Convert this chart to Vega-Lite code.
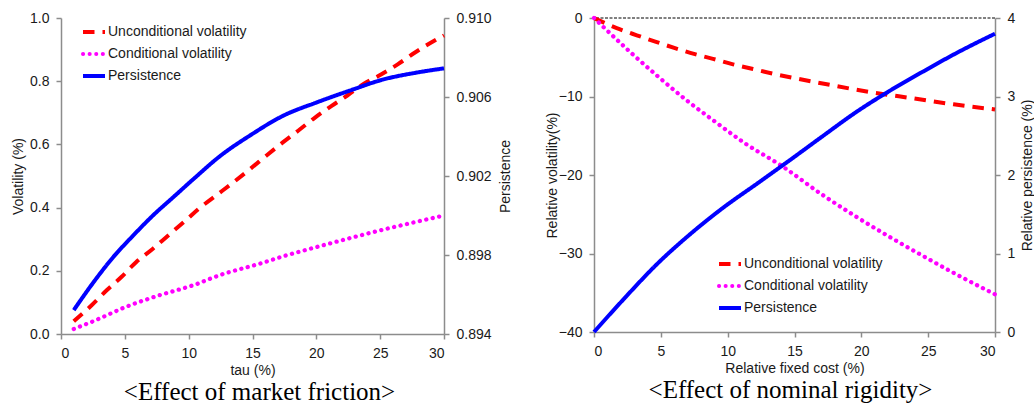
{
  "$schema": "https://vega.github.io/schema/vega-lite/v6.json",
  "background": "white",
  "padding": {"left": 11, "top": 9, "right": 0, "bottom": 0},
  "spacing": 33,
  "datasets": {
    "friction": [
      {"series": "Unconditional volatility", "x": 1, "v": 0.04},
      {"series": "Unconditional volatility", "x": 2.4, "v": 0.091},
      {"series": "Unconditional volatility", "x": 3.6, "v": 0.139},
      {"series": "Unconditional volatility", "x": 4.75, "v": 0.181},
      {"series": "Unconditional volatility", "x": 5.9, "v": 0.228},
      {"series": "Unconditional volatility", "x": 7.2, "v": 0.27},
      {"series": "Unconditional volatility", "x": 8.4, "v": 0.312},
      {"series": "Unconditional volatility", "x": 9.7, "v": 0.357},
      {"series": "Unconditional volatility", "x": 10.9, "v": 0.4},
      {"series": "Unconditional volatility", "x": 12.2, "v": 0.44},
      {"series": "Unconditional volatility", "x": 13.5, "v": 0.48},
      {"series": "Unconditional volatility", "x": 14.9, "v": 0.525},
      {"series": "Unconditional volatility", "x": 16.1, "v": 0.565},
      {"series": "Unconditional volatility", "x": 17.4, "v": 0.607},
      {"series": "Unconditional volatility", "x": 18.6, "v": 0.644},
      {"series": "Unconditional volatility", "x": 19.9, "v": 0.685},
      {"series": "Unconditional volatility", "x": 21.2, "v": 0.722},
      {"series": "Unconditional volatility", "x": 22.4, "v": 0.754},
      {"series": "Unconditional volatility", "x": 23.7, "v": 0.791},
      {"series": "Unconditional volatility", "x": 25.1, "v": 0.822},
      {"series": "Unconditional volatility", "x": 26.4, "v": 0.854},
      {"series": "Unconditional volatility", "x": 27.7, "v": 0.89},
      {"series": "Unconditional volatility", "x": 29.2, "v": 0.927},
      {"series": "Unconditional volatility", "x": 30, "v": 0.945},
      {"series": "Conditional volatility", "x": 1, "v": 0.016},
      {"series": "Conditional volatility", "x": 2.5, "v": 0.04},
      {"series": "Conditional volatility", "x": 5.1, "v": 0.086},
      {"series": "Conditional volatility", "x": 7.5, "v": 0.12},
      {"series": "Conditional volatility", "x": 10.4, "v": 0.155},
      {"series": "Conditional volatility", "x": 12.5, "v": 0.187},
      {"series": "Conditional volatility", "x": 15.6, "v": 0.223},
      {"series": "Conditional volatility", "x": 17.5, "v": 0.247},
      {"series": "Conditional volatility", "x": 20, "v": 0.275},
      {"series": "Conditional volatility", "x": 22.5, "v": 0.302},
      {"series": "Conditional volatility", "x": 25, "v": 0.328},
      {"series": "Conditional volatility", "x": 27.5, "v": 0.352},
      {"series": "Conditional volatility", "x": 30, "v": 0.375},
      {"series": "Persistence", "x": 1, "v": 0.89521},
      {"series": "Persistence", "x": 2.5, "v": 0.89658},
      {"series": "Persistence", "x": 4.1, "v": 0.8979},
      {"series": "Persistence", "x": 5.66, "v": 0.89899},
      {"series": "Persistence", "x": 7.2, "v": 0.9},
      {"series": "Persistence", "x": 8.8, "v": 0.90093},
      {"series": "Persistence", "x": 10.4, "v": 0.90186},
      {"series": "Persistence", "x": 12.5, "v": 0.90303},
      {"series": "Persistence", "x": 14.8, "v": 0.90405},
      {"series": "Persistence", "x": 17.4, "v": 0.90505},
      {"series": "Persistence", "x": 20, "v": 0.90572},
      {"series": "Persistence", "x": 22.6, "v": 0.90632},
      {"series": "Persistence", "x": 25.2, "v": 0.90688},
      {"series": "Persistence", "x": 27.9, "v": 0.90724},
      {"series": "Persistence", "x": 30, "v": 0.90745}
    ],
    "rigidity": [
      {"series": "Unconditional volatility", "x": 0, "v": 0},
      {"series": "Unconditional volatility", "x": 1.7, "v": -1.28},
      {"series": "Unconditional volatility", "x": 3.2, "v": -2.2},
      {"series": "Unconditional volatility", "x": 4.7, "v": -3.07},
      {"series": "Unconditional volatility", "x": 6.06, "v": -3.84},
      {"series": "Unconditional volatility", "x": 7.55, "v": -4.6},
      {"series": "Unconditional volatility", "x": 8.9, "v": -5.2},
      {"series": "Unconditional volatility", "x": 10.4, "v": -5.9},
      {"series": "Unconditional volatility", "x": 11.9, "v": -6.5},
      {"series": "Unconditional volatility", "x": 13.4, "v": -7.1},
      {"series": "Unconditional volatility", "x": 14.9, "v": -7.62},
      {"series": "Unconditional volatility", "x": 17.9, "v": -8.6},
      {"series": "Unconditional volatility", "x": 20.9, "v": -9.5},
      {"series": "Unconditional volatility", "x": 23.9, "v": -10.24},
      {"series": "Unconditional volatility", "x": 26.9, "v": -11.0},
      {"series": "Unconditional volatility", "x": 30, "v": -11.65},
      {"series": "Conditional volatility", "x": 0, "v": 0},
      {"series": "Conditional volatility", "x": 2.8, "v": -4.48},
      {"series": "Conditional volatility", "x": 4.8, "v": -7.47},
      {"series": "Conditional volatility", "x": 6.9, "v": -10.45},
      {"series": "Conditional volatility", "x": 9.05, "v": -13.2},
      {"series": "Conditional volatility", "x": 11.3, "v": -15.97},
      {"series": "Conditional volatility", "x": 14, "v": -18.8},
      {"series": "Conditional volatility", "x": 17.15, "v": -22.6},
      {"series": "Conditional volatility", "x": 19.6, "v": -25.3},
      {"series": "Conditional volatility", "x": 22.1, "v": -27.87},
      {"series": "Conditional volatility", "x": 24.6, "v": -30.3},
      {"series": "Conditional volatility", "x": 27.1, "v": -32.65},
      {"series": "Conditional volatility", "x": 30, "v": -35.2},
      {"series": "Persistence", "x": 0, "v": 0},
      {"series": "Persistence", "x": 2.2, "v": 0.415},
      {"series": "Persistence", "x": 4.7, "v": 0.863},
      {"series": "Persistence", "x": 7.2, "v": 1.247},
      {"series": "Persistence", "x": 9.7, "v": 1.588},
      {"series": "Persistence", "x": 12.2, "v": 1.89},
      {"series": "Persistence", "x": 14.66, "v": 2.19},
      {"series": "Persistence", "x": 17.15, "v": 2.5},
      {"series": "Persistence", "x": 19.6, "v": 2.8},
      {"series": "Persistence", "x": 22.1, "v": 3.07},
      {"series": "Persistence", "x": 24.6, "v": 3.316},
      {"series": "Persistence", "x": 27.1, "v": 3.552},
      {"series": "Persistence", "x": 30, "v": 3.8}
    ]
  },
  "config": {
    "view": {"stroke": null},
    "font": "Liberation Sans",
    "axis": {
      "grid": false,
      "domainColor": "#8c8c8c",
      "domainWidth": 1.5,
      "tickColor": "#8c8c8c",
      "tickWidth": 1.5,
      "tickSize": 5,
      "labelColor": "#1a1a1a",
      "labelFont": "Liberation Sans",
      "labelFontSize": 14,
      "titleFont": "Liberation Sans",
      "titleFontSize": 14,
      "titleFontWeight": "normal",
      "titleColor": "#1a1a1a",
      "labelPadding": 7,
      "titlePadding": 3
    },
    "legend": {
      "labelFont": "Liberation Sans",
      "labelFontSize": 14,
      "labelColor": "#1a1a1a",
      "symbolType": "stroke",
      "symbolSize": 484,
      "symbolStrokeWidth": 4,
      "rowPadding": 1,
      "labelOffset": 1,
      "title": null
    },
    "title": {
      "font": "Liberation Serif",
      "fontSize": 25,
      "fontWeight": "normal",
      "color": "#000000",
      "orient": "bottom",
      "offset": 3
    }
  },
  "resolve": {
    "scale": {"color": "independent", "strokeDash": "independent"},
    "legend": {"color": "independent", "strokeDash": "independent"}
  },
  "hconcat": [
    {
      "title": {"text": "<Effect of market friction>", "dx": 7},
      "width": 383,
      "height": 316,
      "data": {"name": "friction"},
      "resolve": {"scale": {"y": "independent"}},
      "layer": [
        {
          "layer": [
            {
              "transform": [{"filter": "datum.series === 'Unconditional volatility'"}],
              "mark": {"type": "line", "strokeWidth": 4, "strokeCap": "butt", "interpolate": "monotone"},
              "encoding": {
                "x": {"field": "x", "type": "quantitative", "scale": {"domain": [0, 30]}, "axis": {"values": [0, 5, 10, 15, 20, 25, 30], "title": "tau (%)"}},
                "y": {"field": "v", "type": "quantitative", "scale": {"domain": [0, 1]}, "axis": {"values": [0, 0.2, 0.4, 0.6, 0.8, 1.0], "format": ".1f", "title": "Volatility (%)", "titleAngle": 270, "titleX": -43, "titleY": 158, "titleAlign": "center", "titleBaseline": "middle"}},
                "color": {"field": "series", "type": "nominal", "scale": {"domain": ["Unconditional volatility", "Conditional volatility", "Persistence"], "range": ["#ff0000", "#ff00ff", "#0000ff"]},
                  "legend": {"orient": "none", "legendX": 20, "legendY": 1,
                    "encode": {"symbols": {"update": {"strokeCap": [{"test": "datum.value === 'Conditional volatility'", "value": "round"}, {"value": "butt"}]}}}}},
                "strokeDash": {"field": "series", "type": "nominal", "scale": {"domain": ["Unconditional volatility", "Conditional volatility", "Persistence"], "range": [[11.5, 8], [0.1, 6.5], [1, 0]]},
                  "legend": {"orient": "none", "legendX": 20, "legendY": 1}}
              }
            },
            {
              "transform": [{"filter": "datum.series === 'Conditional volatility'"}],
              "mark": {"type": "line", "strokeWidth": 4.3, "strokeCap": "round", "interpolate": "monotone"},
              "encoding": {
                "x": {"field": "x", "type": "quantitative", "scale": {"domain": [0, 30]}},
                "y": {"field": "v", "type": "quantitative", "scale": {"domain": [0, 1]}},
                "color": {"field": "series", "type": "nominal"},
                "strokeDash": {"field": "series", "type": "nominal"}
              }
            }
          ]
        },
        {
          "transform": [{"filter": "datum.series === 'Persistence'"}],
          "mark": {"type": "line", "strokeWidth": 4, "strokeCap": "butt", "interpolate": "monotone"},
          "encoding": {
            "x": {"field": "x", "type": "quantitative", "scale": {"domain": [0, 30]}},
            "y": {"field": "v", "type": "quantitative", "scale": {"domain": [0.894, 0.91], "zero": false}, "axis": {"orient": "right", "values": [0.894, 0.898, 0.902, 0.906, 0.91], "format": ".3f", "title": "Persistence", "titleAngle": 270, "titleX": 61, "titleY": 158, "titleAlign": "center", "titleBaseline": "middle"}},
            "color": {"field": "series", "type": "nominal"},
            "strokeDash": {"field": "series", "type": "nominal"}
          }
        }
      ]
    },
    {
      "title": {"text": "<Effect of nominal rigidity>", "dx": -4},
      "width": 401,
      "height": 314,
      "data": {"name": "rigidity"},
      "resolve": {"scale": {"y": "independent"}},
      "layer": [
        {
          "layer": [
            {
              "data": {"values": [{"zero": 0}]},
              "mark": {"type": "rule", "color": "#000000", "strokeWidth": 1, "strokeDash": [3, 1.5]},
              "encoding": {
                "y": {"field": "zero", "type": "quantitative", "scale": {"domain": [-40, 0]}}
              }
            },
            {
              "transform": [{"filter": "datum.series === 'Unconditional volatility'"}],
              "mark": {"type": "line", "strokeWidth": 4, "strokeCap": "butt", "interpolate": "monotone"},
              "encoding": {
                "x": {"field": "x", "type": "quantitative", "scale": {"domain": [0, 30]}, "axis": {"values": [0, 5, 10, 15, 20, 25, 30], "title": "Relative fixed cost (%)"}},
                "y": {"field": "v", "type": "quantitative", "scale": {"domain": [-40, 0]}, "axis": {"values": [-40, -30, -20, -10, 0], "title": "Relative volatility(%)", "titleAngle": 270, "titleX": -42, "titleY": 157, "titleAlign": "center", "titleBaseline": "middle"}},
                "color": {"field": "series", "type": "nominal", "scale": {"domain": ["Unconditional volatility", "Conditional volatility", "Persistence"], "range": ["#ff0000", "#ff00ff", "#0000ff"]},
                  "legend": {"orient": "none", "legendX": 123, "legendY": 233,
                    "encode": {"symbols": {"update": {"strokeCap": [{"test": "datum.value === 'Conditional volatility'", "value": "round"}, {"value": "butt"}]}}}}},
                "strokeDash": {"field": "series", "type": "nominal", "scale": {"domain": ["Unconditional volatility", "Conditional volatility", "Persistence"], "range": [[11.5, 8], [0.1, 6.5], [1, 0]]},
                  "legend": {"orient": "none", "legendX": 123, "legendY": 233}}
              }
            },
            {
              "transform": [{"filter": "datum.series === 'Conditional volatility'"}],
              "mark": {"type": "line", "strokeWidth": 4.3, "strokeCap": "round", "interpolate": "monotone"},
              "encoding": {
                "x": {"field": "x", "type": "quantitative", "scale": {"domain": [0, 30]}},
                "y": {"field": "v", "type": "quantitative", "scale": {"domain": [-40, 0]}},
                "color": {"field": "series", "type": "nominal"},
                "strokeDash": {"field": "series", "type": "nominal"}
              }
            }
          ]
        },
        {
          "transform": [{"filter": "datum.series === 'Persistence'"}],
          "mark": {"type": "line", "strokeWidth": 4, "strokeCap": "butt", "interpolate": "monotone"},
          "encoding": {
            "x": {"field": "x", "type": "quantitative", "scale": {"domain": [0, 30]}},
            "y": {"field": "v", "type": "quantitative", "scale": {"domain": [0, 4]}, "axis": {"orient": "right", "values": [0, 1, 2, 3, 4], "title": "Relative persistence  (%)", "titleAngle": 270, "titleX": 32, "titleY": 157, "titleAlign": "center", "titleBaseline": "middle"}},
            "color": {"field": "series", "type": "nominal"},
            "strokeDash": {"field": "series", "type": "nominal"}
          }
        }
      ]
    }
  ]
}
